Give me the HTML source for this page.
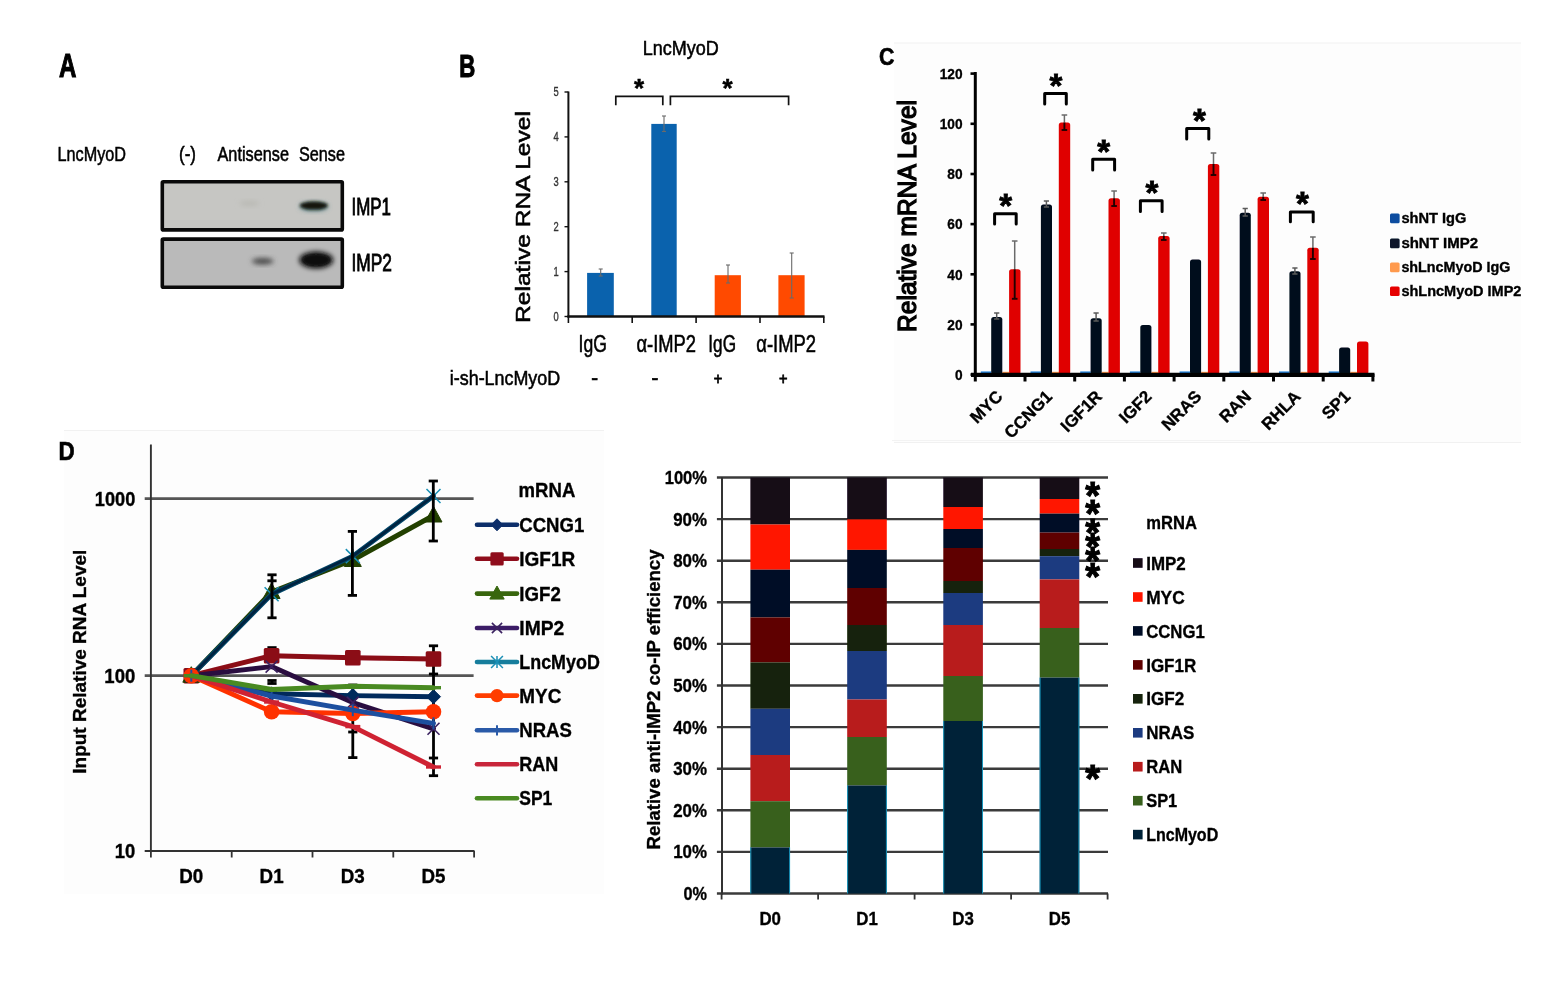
<!DOCTYPE html>
<html lang="en"><head><meta charset="utf-8"><title>LncMyoD figure</title>
<style>html,body{margin:0;padding:0;background:#fff;}body{width:1558px;height:985px;overflow:hidden;}svg{display:block;font-family:"Liberation Sans", Arial, sans-serif;}</style>
</head><body>
<svg width="1558" height="985" viewBox="0 0 1558 985">
<defs>
<filter id="b0" x="-5%" y="-5%" width="110%" height="110%"><feGaussianBlur stdDeviation="0.45"/></filter>
<filter id="b1" x="-20%" y="-20%" width="140%" height="140%"><feGaussianBlur stdDeviation="0.6"/></filter>
<filter id="b2" x="-50%" y="-50%" width="200%" height="200%"><feGaussianBlur stdDeviation="1.6"/></filter>
<filter id="b3" x="-50%" y="-50%" width="200%" height="200%"><feGaussianBlur stdDeviation="2.4"/></filter>
</defs>
<rect x="0.0" y="0.0" width="1558.0" height="985.0" fill="#fff" />
<rect x="894.0" y="43.0" width="627.0" height="400.0" fill="#fdfdfd" />
<line x1="894.0" y1="43.0" x2="1521.0" y2="43.0" stroke="#f1f1f1" stroke-width="1" />
<line x1="894.0" y1="442.5" x2="1521.0" y2="442.5" stroke="#f1f1f1" stroke-width="1" />
<rect x="64.0" y="430.0" width="540.0" height="464.0" fill="#fdfdfd" />
<line x1="64.0" y1="430.5" x2="604.0" y2="430.5" stroke="#f1f1f1" stroke-width="1" />
<line x1="892.0" y1="440.5" x2="1250.0" y2="440.5" stroke="#f3f3f3" stroke-width="1" />
<g id="panelA">
<text x="59.0" y="77.0" font-size="32.5" font-weight="bold" text-anchor="start" fill="#000" textLength="17.4" lengthAdjust="spacingAndGlyphs" stroke="#000" stroke-width="1.1">A</text>
<text x="57.5" y="161.0" font-size="21" font-weight="normal" text-anchor="start" fill="#000" textLength="68.5" lengthAdjust="spacingAndGlyphs" stroke="#000" stroke-width="0.55">LncMyoD</text>
<text x="179.0" y="161.0" font-size="21" font-weight="normal" text-anchor="start" fill="#000" textLength="17.0" lengthAdjust="spacingAndGlyphs" stroke="#000" stroke-width="0.55">(-)</text>
<text x="217.5" y="161.0" font-size="21" font-weight="normal" text-anchor="start" fill="#000" textLength="71.5" lengthAdjust="spacingAndGlyphs" stroke="#000" stroke-width="0.55">Antisense</text>
<text x="299.0" y="161.0" font-size="21" font-weight="normal" text-anchor="start" fill="#000" textLength="46.0" lengthAdjust="spacingAndGlyphs" stroke="#000" stroke-width="0.55">Sense</text>
<rect x="162.3" y="181.7" width="180.0" height="48.2" fill="#c6c6c3" stroke="#0a0a0a" stroke-width="3.6" rx="1"/>
<ellipse cx="249.3" cy="203.4" rx="10" ry="2.6" fill="#b9b9b4" filter="url(#b3)"/>
<ellipse cx="313.8" cy="206.6" rx="14" ry="4" fill="#4a7a80" filter="url(#b3)"/><ellipse cx="313.8" cy="205.6" rx="14" ry="4" fill="#14160f" filter="url(#b2)"/>
<rect x="162.3" y="239.1" width="180.0" height="48.2" fill="#bababa" stroke="#0a0a0a" stroke-width="3.6" rx="1"/>
<ellipse cx="262.7" cy="261.3" rx="11" ry="3.2" fill="#4a4a4a" filter="url(#b3)"/>
<ellipse cx="316.2" cy="260" rx="17" ry="8.6" fill="#0a0a0a" filter="url(#b3)"/><ellipse cx="316.2" cy="260" rx="13" ry="5.5" fill="#111" filter="url(#b2)"/>
<text x="351.5" y="215.0" font-size="24" font-weight="normal" text-anchor="start" fill="#000" textLength="39.5" lengthAdjust="spacingAndGlyphs" stroke="#000" stroke-width="0.85">IMP1</text>
<text x="351.5" y="271.0" font-size="24" font-weight="normal" text-anchor="start" fill="#000" textLength="40.5" lengthAdjust="spacingAndGlyphs" stroke="#000" stroke-width="0.85">IMP2</text>
</g>
<g id="panelB">
<text x="459.3" y="77.3" font-size="31" font-weight="bold" text-anchor="start" fill="#000" textLength="16.0" lengthAdjust="spacingAndGlyphs" stroke="#000" stroke-width="1.1">B</text>
<text x="642.8" y="55.0" font-size="20.5" font-weight="normal" text-anchor="start" fill="#000" textLength="76.0" lengthAdjust="spacingAndGlyphs" stroke="#000" stroke-width="0.55">LncMyoD</text>
<text x="529.5" y="217.0" font-size="21" font-weight="normal" text-anchor="middle" fill="#000" textLength="212.0" lengthAdjust="spacingAndGlyphs" transform="rotate(-90 529.5 217.0)" stroke="#000" stroke-width="0.55">Relative RNA Level</text>
<rect x="587.1" y="272.9" width="26.7" height="43.6" fill="#0a62ad" />
<rect x="651.3" y="123.9" width="25.4" height="192.6" fill="#0a62ad" />
<rect x="714.7" y="275.2" width="26.2" height="41.3" fill="#ff4a00" />
<rect x="778.4" y="275.2" width="26.2" height="41.3" fill="#ff4a00" />
<line x1="600.7" y1="269.0" x2="600.7" y2="276.0" stroke="#6a6a6a" stroke-width="1.1" />
<line x1="598.7" y1="269.0" x2="602.7" y2="269.0" stroke="#6a6a6a" stroke-width="1.1" />
<line x1="598.7" y1="276.0" x2="602.7" y2="276.0" stroke="#6a6a6a" stroke-width="1.1" />
<line x1="664.0" y1="116.0" x2="664.0" y2="131.5" stroke="#6a6a6a" stroke-width="1.1" />
<line x1="662.0" y1="116.0" x2="666.0" y2="116.0" stroke="#6a6a6a" stroke-width="1.1" />
<line x1="662.0" y1="131.5" x2="666.0" y2="131.5" stroke="#6a6a6a" stroke-width="1.1" />
<line x1="728.0" y1="265.0" x2="728.0" y2="283.0" stroke="#6a6a6a" stroke-width="1.1" />
<line x1="726.0" y1="265.0" x2="730.0" y2="265.0" stroke="#6a6a6a" stroke-width="1.1" />
<line x1="726.0" y1="283.0" x2="730.0" y2="283.0" stroke="#6a6a6a" stroke-width="1.1" />
<line x1="791.7" y1="253.0" x2="791.7" y2="298.0" stroke="#6a6a6a" stroke-width="1.1" />
<line x1="789.7" y1="253.0" x2="793.7" y2="253.0" stroke="#6a6a6a" stroke-width="1.1" />
<line x1="789.7" y1="298.0" x2="793.7" y2="298.0" stroke="#6a6a6a" stroke-width="1.1" />
<line x1="568.4" y1="91.5" x2="568.4" y2="317.5" stroke="#111" stroke-width="2" />
<line x1="567.4" y1="316.5" x2="824.5" y2="316.5" stroke="#111" stroke-width="2.6" />
<line x1="568.4" y1="316.5" x2="568.4" y2="323.0" stroke="#111" stroke-width="1.6" />
<line x1="632.2" y1="316.5" x2="632.2" y2="323.0" stroke="#111" stroke-width="1.6" />
<line x1="696.1" y1="316.5" x2="696.1" y2="323.0" stroke="#111" stroke-width="1.6" />
<line x1="760.0" y1="316.5" x2="760.0" y2="323.0" stroke="#111" stroke-width="1.6" />
<line x1="823.8" y1="316.5" x2="823.8" y2="323.0" stroke="#111" stroke-width="1.6" />
<line x1="564.5" y1="316.5" x2="568.4" y2="316.5" stroke="#111" stroke-width="1.4" />
<text x="558.8" y="320.8" font-size="12.5" font-weight="normal" text-anchor="end" fill="#333" textLength="5.2" lengthAdjust="spacingAndGlyphs" stroke="#333" stroke-width="0.35">0</text>
<line x1="564.5" y1="271.6" x2="568.4" y2="271.6" stroke="#111" stroke-width="1.4" />
<text x="558.8" y="275.9" font-size="12.5" font-weight="normal" text-anchor="end" fill="#333" textLength="5.2" lengthAdjust="spacingAndGlyphs" stroke="#333" stroke-width="0.35">1</text>
<line x1="564.5" y1="226.7" x2="568.4" y2="226.7" stroke="#111" stroke-width="1.4" />
<text x="558.8" y="231.0" font-size="12.5" font-weight="normal" text-anchor="end" fill="#333" textLength="5.2" lengthAdjust="spacingAndGlyphs" stroke="#333" stroke-width="0.35">2</text>
<line x1="564.5" y1="181.8" x2="568.4" y2="181.8" stroke="#111" stroke-width="1.4" />
<text x="558.8" y="186.1" font-size="12.5" font-weight="normal" text-anchor="end" fill="#333" textLength="5.2" lengthAdjust="spacingAndGlyphs" stroke="#333" stroke-width="0.35">3</text>
<line x1="564.5" y1="136.9" x2="568.4" y2="136.9" stroke="#111" stroke-width="1.4" />
<text x="558.8" y="141.2" font-size="12.5" font-weight="normal" text-anchor="end" fill="#333" textLength="5.2" lengthAdjust="spacingAndGlyphs" stroke="#333" stroke-width="0.35">4</text>
<line x1="564.5" y1="92.0" x2="568.4" y2="92.0" stroke="#111" stroke-width="1.4" />
<text x="558.8" y="96.3" font-size="12.5" font-weight="normal" text-anchor="end" fill="#333" textLength="5.2" lengthAdjust="spacingAndGlyphs" stroke="#333" stroke-width="0.35">5</text>
<path d="M615.8 105.2 V96.3 H662.8 V105.2" stroke="#111" stroke-width="1.7" fill="none" />
<path d="M670.4 105.2 V96.3 H788.6 V105.2" stroke="#111" stroke-width="1.7" fill="none" />
<text x="639.0" y="96.5" font-size="26" font-weight="bold" text-anchor="middle" fill="#000" stroke="#000" stroke-width="0.5">*</text>
<text x="727.5" y="96.5" font-size="26" font-weight="bold" text-anchor="middle" fill="#000" stroke="#000" stroke-width="0.5">*</text>
<text x="578.6" y="352.0" font-size="23.5" font-weight="normal" text-anchor="start" fill="#000" textLength="28.3" lengthAdjust="spacingAndGlyphs" stroke="#000" stroke-width="0.55">IgG</text>
<text x="636.4" y="352.0" font-size="23.5" font-weight="normal" text-anchor="start" fill="#000" textLength="59.6" lengthAdjust="spacingAndGlyphs" stroke="#000" stroke-width="0.55">α-IMP2</text>
<text x="708.3" y="352.0" font-size="23.5" font-weight="normal" text-anchor="start" fill="#000" textLength="27.7" lengthAdjust="spacingAndGlyphs" stroke="#000" stroke-width="0.55">IgG</text>
<text x="756.3" y="352.0" font-size="23.5" font-weight="normal" text-anchor="start" fill="#000" textLength="59.8" lengthAdjust="spacingAndGlyphs" stroke="#000" stroke-width="0.55">α-IMP2</text>
<text x="449.8" y="385.0" font-size="20.5" font-weight="normal" text-anchor="start" fill="#000" textLength="110.4" lengthAdjust="spacingAndGlyphs" stroke="#000" stroke-width="0.55">i-sh-LncMyoD</text>
<text x="594.6" y="385.0" font-size="20.5" font-weight="normal" text-anchor="middle" fill="#000" stroke="#000" stroke-width="0.7">-</text>
<text x="655.0" y="385.0" font-size="20.5" font-weight="normal" text-anchor="middle" fill="#000" stroke="#000" stroke-width="0.7">-</text>
<text x="718.0" y="384.0" font-size="17" font-weight="normal" text-anchor="middle" fill="#000" textLength="8.5" lengthAdjust="spacingAndGlyphs" stroke="#000" stroke-width="0.8">+</text>
<text x="783.3" y="384.0" font-size="17" font-weight="normal" text-anchor="middle" fill="#000" textLength="8.5" lengthAdjust="spacingAndGlyphs" stroke="#000" stroke-width="0.8">+</text>
</g>
<g id="panelC" filter="url(#b0)">
<text x="879.0" y="65.0" font-size="23.5" font-weight="bold" text-anchor="start" fill="#000" textLength="15.4" lengthAdjust="spacingAndGlyphs" stroke="#000" stroke-width="0.6">C</text>
<text x="915.5" y="216.0" font-size="25" font-weight="normal" text-anchor="middle" fill="#000" textLength="232.0" lengthAdjust="spacingAndGlyphs" transform="rotate(-90 915.5 216.0)" stroke="#000" stroke-width="1.3">Relative mRNA Level</text>
<g filter="url(#b1)">
<rect x="980.8" y="371.4" width="10.5" height="2.0" fill="#2a86dc" />
<rect x="1002.3" y="371.8" width="7.0" height="1.4" fill="#ff9a4d" />
<rect x="991.2" y="316.9" width="11.1" height="57.7" rx="2.5" fill="#030d1c"/>
<rect x="1009.1" y="269.3" width="11.4" height="105.3" rx="2.5" fill="#e00000"/>
<line x1="996.7" y1="313.0" x2="996.7" y2="319.0" stroke="#5a5a5a" stroke-width="1.5" />
<line x1="994.1" y1="313.0" x2="999.3" y2="313.0" stroke="#5a5a5a" stroke-width="1.5" />
<line x1="994.1" y1="319.0" x2="999.3" y2="319.0" stroke="#5a5a5a" stroke-width="1.5" />
<line x1="1014.7" y1="241.0" x2="1014.7" y2="269.3" stroke="#6a6a6a" stroke-width="1.5" />
<line x1="1011.9" y1="241.0" x2="1017.5" y2="241.0" stroke="#6a6a6a" stroke-width="1.5" />
<line x1="1014.7" y1="269.3" x2="1014.7" y2="298.8" stroke="#200404" stroke-width="1.9" />
<line x1="1011.9" y1="298.8" x2="1017.5" y2="298.8" stroke="#200404" stroke-width="1.9" />
<rect x="1030.5" y="371.4" width="10.5" height="2.0" fill="#2a86dc" />
<rect x="1052.0" y="371.8" width="7.0" height="1.4" fill="#ff9a4d" />
<rect x="1040.9" y="204.6" width="11.1" height="170.0" rx="2.5" fill="#030d1c"/>
<rect x="1058.8" y="122.5" width="11.4" height="252.1" rx="2.5" fill="#e00000"/>
<line x1="1046.4" y1="201.0" x2="1046.4" y2="207.0" stroke="#5a5a5a" stroke-width="1.5" />
<line x1="1043.8" y1="201.0" x2="1049.0" y2="201.0" stroke="#5a5a5a" stroke-width="1.5" />
<line x1="1043.8" y1="207.0" x2="1049.0" y2="207.0" stroke="#5a5a5a" stroke-width="1.5" />
<line x1="1064.4" y1="115.0" x2="1064.4" y2="122.5" stroke="#6a6a6a" stroke-width="1.5" />
<line x1="1061.6" y1="115.0" x2="1067.2" y2="115.0" stroke="#6a6a6a" stroke-width="1.5" />
<line x1="1064.4" y1="122.5" x2="1064.4" y2="130.0" stroke="#200404" stroke-width="1.9" />
<line x1="1061.6" y1="130.0" x2="1067.2" y2="130.0" stroke="#200404" stroke-width="1.9" />
<rect x="1080.2" y="371.4" width="10.5" height="2.0" fill="#2a86dc" />
<rect x="1101.7" y="371.8" width="7.0" height="1.4" fill="#ff9a4d" />
<rect x="1090.6" y="318.2" width="11.1" height="56.4" rx="2.5" fill="#030d1c"/>
<rect x="1108.5" y="198.3" width="11.4" height="176.3" rx="2.5" fill="#e00000"/>
<line x1="1096.1" y1="313.0" x2="1096.1" y2="321.0" stroke="#5a5a5a" stroke-width="1.5" />
<line x1="1093.5" y1="313.0" x2="1098.7" y2="313.0" stroke="#5a5a5a" stroke-width="1.5" />
<line x1="1093.5" y1="321.0" x2="1098.7" y2="321.0" stroke="#5a5a5a" stroke-width="1.5" />
<line x1="1114.1" y1="191.0" x2="1114.1" y2="198.3" stroke="#6a6a6a" stroke-width="1.5" />
<line x1="1111.3" y1="191.0" x2="1116.9" y2="191.0" stroke="#6a6a6a" stroke-width="1.5" />
<line x1="1114.1" y1="198.3" x2="1114.1" y2="206.0" stroke="#200404" stroke-width="1.9" />
<line x1="1111.3" y1="206.0" x2="1116.9" y2="206.0" stroke="#200404" stroke-width="1.9" />
<rect x="1129.9" y="371.4" width="10.5" height="2.0" fill="#2a86dc" />
<rect x="1151.4" y="371.8" width="7.0" height="1.4" fill="#ff9a4d" />
<rect x="1140.3" y="324.9" width="11.1" height="49.7" rx="2.5" fill="#030d1c"/>
<rect x="1158.2" y="235.9" width="11.4" height="138.7" rx="2.5" fill="#e00000"/>
<line x1="1163.8" y1="233.0" x2="1163.8" y2="235.9" stroke="#6a6a6a" stroke-width="1.5" />
<line x1="1161.0" y1="233.0" x2="1166.6" y2="233.0" stroke="#6a6a6a" stroke-width="1.5" />
<line x1="1163.8" y1="235.9" x2="1163.8" y2="240.0" stroke="#200404" stroke-width="1.9" />
<line x1="1161.0" y1="240.0" x2="1166.6" y2="240.0" stroke="#200404" stroke-width="1.9" />
<rect x="1179.6" y="371.4" width="10.5" height="2.0" fill="#2a86dc" />
<rect x="1201.1" y="371.8" width="7.0" height="1.4" fill="#ff9a4d" />
<rect x="1190.0" y="259.5" width="11.1" height="115.1" rx="2.5" fill="#030d1c"/>
<rect x="1207.9" y="163.9" width="11.4" height="210.7" rx="2.5" fill="#e00000"/>
<line x1="1213.5" y1="153.0" x2="1213.5" y2="163.9" stroke="#6a6a6a" stroke-width="1.5" />
<line x1="1210.7" y1="153.0" x2="1216.3" y2="153.0" stroke="#6a6a6a" stroke-width="1.5" />
<line x1="1213.5" y1="163.9" x2="1213.5" y2="175.0" stroke="#200404" stroke-width="1.9" />
<line x1="1210.7" y1="175.0" x2="1216.3" y2="175.0" stroke="#200404" stroke-width="1.9" />
<rect x="1229.3" y="371.4" width="10.5" height="2.0" fill="#2a86dc" />
<rect x="1250.8" y="371.8" width="7.0" height="1.4" fill="#ff9a4d" />
<rect x="1239.7" y="212.8" width="11.1" height="161.8" rx="2.5" fill="#030d1c"/>
<rect x="1257.6" y="196.8" width="11.4" height="177.8" rx="2.5" fill="#e00000"/>
<line x1="1245.2" y1="208.5" x2="1245.2" y2="216.0" stroke="#5a5a5a" stroke-width="1.5" />
<line x1="1242.6" y1="208.5" x2="1247.8" y2="208.5" stroke="#5a5a5a" stroke-width="1.5" />
<line x1="1242.6" y1="216.0" x2="1247.8" y2="216.0" stroke="#5a5a5a" stroke-width="1.5" />
<line x1="1263.2" y1="193.0" x2="1263.2" y2="196.8" stroke="#6a6a6a" stroke-width="1.5" />
<line x1="1260.4" y1="193.0" x2="1266.0" y2="193.0" stroke="#6a6a6a" stroke-width="1.5" />
<line x1="1263.2" y1="196.8" x2="1263.2" y2="200.0" stroke="#200404" stroke-width="1.9" />
<line x1="1260.4" y1="200.0" x2="1266.0" y2="200.0" stroke="#200404" stroke-width="1.9" />
<rect x="1279.0" y="371.4" width="10.5" height="2.0" fill="#2a86dc" />
<rect x="1300.5" y="371.8" width="7.0" height="1.4" fill="#ff9a4d" />
<rect x="1289.4" y="271.3" width="11.1" height="103.3" rx="2.5" fill="#030d1c"/>
<rect x="1307.3" y="247.7" width="11.4" height="126.9" rx="2.5" fill="#e00000"/>
<line x1="1294.9" y1="268.0" x2="1294.9" y2="274.0" stroke="#5a5a5a" stroke-width="1.5" />
<line x1="1292.3" y1="268.0" x2="1297.5" y2="268.0" stroke="#5a5a5a" stroke-width="1.5" />
<line x1="1292.3" y1="274.0" x2="1297.5" y2="274.0" stroke="#5a5a5a" stroke-width="1.5" />
<line x1="1312.9" y1="237.0" x2="1312.9" y2="247.7" stroke="#6a6a6a" stroke-width="1.5" />
<line x1="1310.1" y1="237.0" x2="1315.7" y2="237.0" stroke="#6a6a6a" stroke-width="1.5" />
<line x1="1312.9" y1="247.7" x2="1312.9" y2="259.0" stroke="#200404" stroke-width="1.9" />
<line x1="1310.1" y1="259.0" x2="1315.7" y2="259.0" stroke="#200404" stroke-width="1.9" />
<rect x="1328.7" y="371.4" width="10.5" height="2.0" fill="#2a86dc" />
<rect x="1350.2" y="371.8" width="7.0" height="1.4" fill="#ff9a4d" />
<rect x="1339.1" y="347.5" width="11.1" height="27.1" rx="2.5" fill="#030d1c"/>
<rect x="1357.0" y="341.5" width="11.4" height="33.1" rx="2.5" fill="#e00000"/>
</g>
<line x1="975.3" y1="72.0" x2="975.3" y2="376.5" stroke="#000" stroke-width="3" />
<line x1="971.0" y1="374.8" x2="1374.5" y2="374.8" stroke="#000" stroke-width="4.2" />
<line x1="975.3" y1="374.0" x2="975.3" y2="381.5" stroke="#000" stroke-width="3" />
<line x1="1025.0" y1="374.0" x2="1025.0" y2="381.5" stroke="#000" stroke-width="3" />
<line x1="1074.7" y1="374.0" x2="1074.7" y2="381.5" stroke="#000" stroke-width="3" />
<line x1="1124.4" y1="374.0" x2="1124.4" y2="381.5" stroke="#000" stroke-width="3" />
<line x1="1174.1" y1="374.0" x2="1174.1" y2="381.5" stroke="#000" stroke-width="3" />
<line x1="1223.8" y1="374.0" x2="1223.8" y2="381.5" stroke="#000" stroke-width="3" />
<line x1="1273.5" y1="374.0" x2="1273.5" y2="381.5" stroke="#000" stroke-width="3" />
<line x1="1323.2" y1="374.0" x2="1323.2" y2="381.5" stroke="#000" stroke-width="3" />
<line x1="1372.9" y1="374.0" x2="1372.9" y2="381.5" stroke="#000" stroke-width="3" />
<line x1="970.5" y1="374.6" x2="975.3" y2="374.6" stroke="#000" stroke-width="2.6" />
<text x="962.5" y="379.9" font-size="15" font-weight="bold" text-anchor="end" fill="#000" textLength="7.6" lengthAdjust="spacingAndGlyphs" stroke="#000" stroke-width="0.35">0</text>
<line x1="970.5" y1="324.4" x2="975.3" y2="324.4" stroke="#000" stroke-width="2.6" />
<text x="962.5" y="329.7" font-size="15" font-weight="bold" text-anchor="end" fill="#000" textLength="15.2" lengthAdjust="spacingAndGlyphs" stroke="#000" stroke-width="0.35">20</text>
<line x1="970.5" y1="274.3" x2="975.3" y2="274.3" stroke="#000" stroke-width="2.6" />
<text x="962.5" y="279.6" font-size="15" font-weight="bold" text-anchor="end" fill="#000" textLength="15.2" lengthAdjust="spacingAndGlyphs" stroke="#000" stroke-width="0.35">40</text>
<line x1="970.5" y1="224.1" x2="975.3" y2="224.1" stroke="#000" stroke-width="2.6" />
<text x="962.5" y="229.4" font-size="15" font-weight="bold" text-anchor="end" fill="#000" textLength="15.2" lengthAdjust="spacingAndGlyphs" stroke="#000" stroke-width="0.35">60</text>
<line x1="970.5" y1="174.0" x2="975.3" y2="174.0" stroke="#000" stroke-width="2.6" />
<text x="962.5" y="179.3" font-size="15" font-weight="bold" text-anchor="end" fill="#000" textLength="15.2" lengthAdjust="spacingAndGlyphs" stroke="#000" stroke-width="0.35">80</text>
<line x1="970.5" y1="123.8" x2="975.3" y2="123.8" stroke="#000" stroke-width="2.6" />
<text x="962.5" y="129.1" font-size="15" font-weight="bold" text-anchor="end" fill="#000" textLength="22.8" lengthAdjust="spacingAndGlyphs" stroke="#000" stroke-width="0.35">100</text>
<line x1="970.5" y1="73.6" x2="975.3" y2="73.6" stroke="#000" stroke-width="2.6" />
<text x="962.5" y="78.9" font-size="15" font-weight="bold" text-anchor="end" fill="#000" textLength="22.8" lengthAdjust="spacingAndGlyphs" stroke="#000" stroke-width="0.35">120</text>
<path d="M994.6 224.0 V213.7 H1016.2 V224.0" stroke="#000" stroke-width="3" fill="none" stroke-linejoin="round" stroke-linecap="round"/>
<text x="1005.6" y="217.0" font-size="33" font-weight="bold" text-anchor="middle" fill="#000" stroke="#000" stroke-width="0.8">*</text>
<path d="M1044.7 104.0 V93.5 H1066.3 V104.0" stroke="#000" stroke-width="3" fill="none" stroke-linejoin="round" stroke-linecap="round"/>
<text x="1056.0" y="97.1" font-size="33" font-weight="bold" text-anchor="middle" fill="#000" stroke="#000" stroke-width="0.8">*</text>
<path d="M1092.7 170.0 V159.3 H1114.6 V170.0" stroke="#000" stroke-width="3" fill="none" stroke-linejoin="round" stroke-linecap="round"/>
<text x="1103.6" y="163.1" font-size="33" font-weight="bold" text-anchor="middle" fill="#000" stroke="#000" stroke-width="0.8">*</text>
<path d="M1140.4 211.5 V200.8 H1162.1 V211.5" stroke="#000" stroke-width="3" fill="none" stroke-linejoin="round" stroke-linecap="round"/>
<text x="1152.0" y="203.5" font-size="33" font-weight="bold" text-anchor="middle" fill="#000" stroke="#000" stroke-width="0.8">*</text>
<path d="M1186.7 139.0 V128.4 H1208.8 V139.0" stroke="#000" stroke-width="3" fill="none" stroke-linejoin="round" stroke-linecap="round"/>
<text x="1199.4" y="131.8" font-size="33" font-weight="bold" text-anchor="middle" fill="#000" stroke="#000" stroke-width="0.8">*</text>
<path d="M1290.4 221.7 V212.1 H1313.2 V221.7" stroke="#000" stroke-width="3" fill="none" stroke-linejoin="round" stroke-linecap="round"/>
<text x="1302.5" y="215.0" font-size="33" font-weight="bold" text-anchor="middle" fill="#000" stroke="#000" stroke-width="0.8">*</text>
<text x="1003.6" y="397.5" font-size="17" font-weight="bold" text-anchor="end" fill="#000" transform="rotate(-45 1003.6 397.5)" stroke="#000" stroke-width="0.35">MYC</text>
<text x="1053.3" y="397.5" font-size="17" font-weight="bold" text-anchor="end" fill="#000" transform="rotate(-45 1053.3 397.5)" stroke="#000" stroke-width="0.35">CCNG1</text>
<text x="1103.0" y="397.5" font-size="17" font-weight="bold" text-anchor="end" fill="#000" transform="rotate(-45 1103.0 397.5)" stroke="#000" stroke-width="0.35">IGF1R</text>
<text x="1152.8" y="397.5" font-size="17" font-weight="bold" text-anchor="end" fill="#000" transform="rotate(-45 1152.8 397.5)" stroke="#000" stroke-width="0.35">IGF2</text>
<text x="1202.5" y="397.5" font-size="17" font-weight="bold" text-anchor="end" fill="#000" transform="rotate(-45 1202.5 397.5)" stroke="#000" stroke-width="0.35">NRAS</text>
<text x="1252.2" y="397.5" font-size="17" font-weight="bold" text-anchor="end" fill="#000" transform="rotate(-45 1252.2 397.5)" stroke="#000" stroke-width="0.35">RAN</text>
<text x="1301.8" y="397.5" font-size="17" font-weight="bold" text-anchor="end" fill="#000" transform="rotate(-45 1301.8 397.5)" stroke="#000" stroke-width="0.35">RHLA</text>
<text x="1351.5" y="397.5" font-size="17" font-weight="bold" text-anchor="end" fill="#000" transform="rotate(-45 1351.5 397.5)" stroke="#000" stroke-width="0.35">SP1</text>
<rect x="1390" y="213.6" width="9.6" height="9.6" rx="1.5" fill="#0b4da0"/>
<text x="1401.4" y="223.4" font-size="14" font-weight="bold" text-anchor="start" fill="#000" textLength="65.0" lengthAdjust="spacingAndGlyphs" stroke="#000" stroke-width="0.35">shNT IgG</text>
<rect x="1390" y="238.6" width="9.6" height="9.6" rx="1.5" fill="#07182b"/>
<text x="1401.4" y="248.4" font-size="14" font-weight="bold" text-anchor="start" fill="#000" textLength="76.6" lengthAdjust="spacingAndGlyphs" stroke="#000" stroke-width="0.35">shNT IMP2</text>
<rect x="1390" y="262.6" width="9.6" height="9.6" rx="1.5" fill="#ff9a4d"/>
<text x="1401.4" y="272.4" font-size="14" font-weight="bold" text-anchor="start" fill="#000" textLength="109.0" lengthAdjust="spacingAndGlyphs" stroke="#000" stroke-width="0.35">shLncMyoD IgG</text>
<rect x="1390" y="286.4" width="9.6" height="9.6" rx="1.5" fill="#e60000"/>
<text x="1401.4" y="296.2" font-size="14" font-weight="bold" text-anchor="start" fill="#000" textLength="120.0" lengthAdjust="spacingAndGlyphs" stroke="#000" stroke-width="0.35">shLncMyoD IMP2</text>
</g>
<g id="panelD1" filter="url(#b0)">
<text x="58.5" y="460.0" font-size="25" font-weight="bold" text-anchor="start" fill="#000" textLength="16.2" lengthAdjust="spacingAndGlyphs" stroke="#000" stroke-width="0.6">D</text>
<line x1="144.7" y1="498.6" x2="473.6" y2="498.6" stroke="#555" stroke-width="2.8" />
<line x1="144.7" y1="675.7" x2="473.6" y2="675.7" stroke="#555" stroke-width="2.8" />
<line x1="150.9" y1="444.4" x2="150.9" y2="852.0" stroke="#333" stroke-width="1.9" />
<line x1="144.7" y1="851.0" x2="474.5" y2="851.0" stroke="#333" stroke-width="2.2" />
<line x1="150.9" y1="851.0" x2="150.9" y2="857.5" stroke="#333" stroke-width="1.8" />
<line x1="231.7" y1="851.0" x2="231.7" y2="857.5" stroke="#333" stroke-width="1.8" />
<line x1="312.5" y1="851.0" x2="312.5" y2="857.5" stroke="#333" stroke-width="1.8" />
<line x1="393.3" y1="851.0" x2="393.3" y2="857.5" stroke="#333" stroke-width="1.8" />
<line x1="474.1" y1="851.0" x2="474.1" y2="857.5" stroke="#333" stroke-width="1.8" />
<text x="135.3" y="506.0" font-size="19.5" font-weight="bold" text-anchor="end" fill="#000" textLength="40.5" lengthAdjust="spacingAndGlyphs" stroke="#000" stroke-width="0.35">1000</text>
<text x="135.3" y="682.5" font-size="19.5" font-weight="bold" text-anchor="end" fill="#000" textLength="31.0" lengthAdjust="spacingAndGlyphs" stroke="#000" stroke-width="0.35">100</text>
<text x="135.3" y="858.0" font-size="19.5" font-weight="bold" text-anchor="end" fill="#000" textLength="20.5" lengthAdjust="spacingAndGlyphs" stroke="#000" stroke-width="0.35">10</text>
<text x="86.0" y="661.7" font-size="19" font-weight="bold" text-anchor="middle" fill="#000" textLength="224.0" lengthAdjust="spacingAndGlyphs" transform="rotate(-90 86.0 661.7)" stroke="#000" stroke-width="0.35">Input Relative RNA Level</text>
<text x="191.3" y="883.2" font-size="19.5" font-weight="bold" text-anchor="middle" fill="#000" textLength="24.0" lengthAdjust="spacingAndGlyphs" stroke="#000" stroke-width="0.35">D0</text>
<text x="271.6" y="883.2" font-size="19.5" font-weight="bold" text-anchor="middle" fill="#000" textLength="24.0" lengthAdjust="spacingAndGlyphs" stroke="#000" stroke-width="0.35">D1</text>
<text x="352.8" y="883.2" font-size="19.5" font-weight="bold" text-anchor="middle" fill="#000" textLength="24.0" lengthAdjust="spacingAndGlyphs" stroke="#000" stroke-width="0.35">D3</text>
<text x="433.5" y="883.2" font-size="19.5" font-weight="bold" text-anchor="middle" fill="#000" textLength="24.0" lengthAdjust="spacingAndGlyphs" stroke="#000" stroke-width="0.35">D5</text>
<g filter="url(#b1)">
<line x1="272.0" y1="647.6" x2="272.0" y2="650.0" stroke="#000" stroke-width="2.8" />
<line x1="267.4" y1="647.6" x2="276.6" y2="647.6" stroke="#000" stroke-width="2.8" />
<line x1="267.4" y1="650.0" x2="276.6" y2="650.0" stroke="#000" stroke-width="2.8" />
<line x1="272.0" y1="680.5" x2="272.0" y2="683.5" stroke="#000" stroke-width="2.8" />
<line x1="267.4" y1="680.5" x2="276.6" y2="680.5" stroke="#000" stroke-width="2.8" />
<line x1="267.4" y1="683.5" x2="276.6" y2="683.5" stroke="#000" stroke-width="2.8" />
<line x1="352.8" y1="685.0" x2="352.8" y2="757.6" stroke="#000" stroke-width="2.8" />
<line x1="348.2" y1="685.0" x2="357.4" y2="685.0" stroke="#000" stroke-width="2.8" />
<line x1="348.2" y1="732.0" x2="357.4" y2="732.0" stroke="#000" stroke-width="2.8" />
<line x1="348.2" y1="757.6" x2="357.4" y2="757.6" stroke="#000" stroke-width="2.8" />
<line x1="433.5" y1="645.8" x2="433.5" y2="775.7" stroke="#000" stroke-width="2.8" />
<line x1="428.9" y1="645.8" x2="438.1" y2="645.8" stroke="#000" stroke-width="2.8" />
<line x1="428.9" y1="674.0" x2="438.1" y2="674.0" stroke="#000" stroke-width="2.8" />
<line x1="428.9" y1="758.0" x2="438.1" y2="758.0" stroke="#000" stroke-width="2.8" />
<line x1="428.9" y1="775.7" x2="438.1" y2="775.7" stroke="#000" stroke-width="2.8" />
<polyline points="191.3,675.7 271.6,693.8 352.8,695.6 433.5,696.7" fill="none" stroke="#062a5c" stroke-width="4.9" stroke-linejoin="round" stroke-linecap="round"/>
<path d="M184.3 675.7 L191.3 668.7 L198.3 675.7 L191.3 682.7 Z" stroke="#062a5c" stroke-width="1" fill="#062a5c" />
<path d="M264.6 693.8 L271.6 686.8 L278.6 693.8 L271.6 700.8 Z" stroke="#062a5c" stroke-width="1" fill="#062a5c" />
<path d="M345.8 695.6 L352.8 688.6 L359.8 695.6 L352.8 702.6 Z" stroke="#062a5c" stroke-width="1" fill="#062a5c" />
<path d="M426.5 696.7 L433.5 689.7 L440.5 696.7 L433.5 703.7 Z" stroke="#062a5c" stroke-width="1" fill="#062a5c" />
<polyline points="191.3,675.7 271.6,655.7 352.8,657.8 433.5,659.0" fill="none" stroke="#8b0a14" stroke-width="4.9" stroke-linejoin="round" stroke-linecap="round"/>
<rect x="183.5" y="667.9" width="15.6" height="15.6" fill="#8b0a14" rx="1.5"/>
<rect x="263.8" y="647.9" width="15.6" height="15.6" fill="#8b0a14" rx="1.5"/>
<rect x="345.0" y="650.0" width="15.6" height="15.6" fill="#8b0a14" rx="1.5"/>
<rect x="425.7" y="651.2" width="15.6" height="15.6" fill="#8b0a14" rx="1.5"/>
<polyline points="191.3,675.7 271.6,592.0 352.8,560.0 433.5,515.5" fill="none" stroke="#243f02" stroke-width="4.9" stroke-linejoin="round" stroke-linecap="round"/>
<path d="M182.8 682.2 L191.3 666.7 L199.8 682.2 Z" stroke="#243f02" stroke-width="1" fill="#243f02" />
<path d="M263.1 598.5 L271.6 583.0 L280.1 598.5 Z" stroke="#243f02" stroke-width="1" fill="#243f02" />
<path d="M344.3 566.5 L352.8 551.0 L361.3 566.5 Z" stroke="#243f02" stroke-width="1" fill="#243f02" />
<path d="M425.0 522.0 L433.5 506.5 L442.0 522.0 Z" stroke="#243f02" stroke-width="1" fill="#243f02" />
<polyline points="191.3,675.7 271.6,666.6 352.8,702.6 433.5,728.8" fill="none" stroke="#2a1040" stroke-width="4.9" stroke-linejoin="round" stroke-linecap="round"/>
<path d="M185.3 669.7 L197.3 681.7 M185.3 681.7 L197.3 669.7" stroke="#3a2060" stroke-width="1.6" fill="none" />
<path d="M265.6 660.6 L277.6 672.6 M265.6 672.6 L277.6 660.6" stroke="#3a2060" stroke-width="1.6" fill="none" />
<path d="M346.8 696.6 L358.8 708.6 M346.8 708.6 L358.8 696.6" stroke="#3a2060" stroke-width="1.6" fill="none" />
<path d="M427.5 722.8 L439.5 734.8 M427.5 734.8 L439.5 722.8" stroke="#3a2060" stroke-width="1.6" fill="none" />
<path d="M264.6 587.3 L278.6 601.3 M264.6 601.3 L278.6 587.3 M271.6 587.3 V601.3" stroke="#1a8fb5" stroke-width="1.5" fill="none" />
<path d="M345.8 549.1 L359.8 563.1 M345.8 563.1 L359.8 549.1 M352.8 549.1 V563.1" stroke="#1a8fb5" stroke-width="1.5" fill="none" />
<path d="M426.5 489.0 L440.5 503.0 M426.5 503.0 L440.5 489.0 M433.5 489.0 V503.0" stroke="#1a8fb5" stroke-width="1.5" fill="none" />
<polyline points="191.3,675.7 271.6,594.3 352.8,556.1 433.5,496.0" fill="none" stroke="#07476a" stroke-width="4.9" stroke-linejoin="round" stroke-linecap="round"/>
<polyline points="191.3,675.7 271.6,594.3 352.8,556.1 433.5,496.0" fill="none" stroke="#032440" stroke-width="2.8" stroke-linejoin="round" stroke-linecap="round"/>
<polyline points="191.3,675.7 271.6,711.7 352.8,713.5 433.5,711.7" fill="none" stroke="#ff3300" stroke-width="4.9" stroke-linejoin="round" stroke-linecap="round"/>
<circle cx="191.3" cy="675.7" r="7.8" fill="#ff3300"/>
<circle cx="271.6" cy="711.7" r="7.8" fill="#ff3300"/>
<circle cx="352.8" cy="713.5" r="7.8" fill="#ff3300"/>
<circle cx="433.5" cy="711.7" r="7.8" fill="#ff3300"/>
<polyline points="191.3,675.7 271.6,696.0 352.8,710.2 433.5,723.3" fill="none" stroke="#1f4f9f" stroke-width="4.9" stroke-linejoin="round" stroke-linecap="round"/>
<path d="M191.3 669.7 V681.7" stroke="#1f4f9f" stroke-width="2" fill="none" />
<path d="M271.6 690.0 V702.0" stroke="#1f4f9f" stroke-width="2" fill="none" />
<path d="M352.8 704.2 V716.2" stroke="#1f4f9f" stroke-width="2" fill="none" />
<path d="M433.5 717.3 V729.3" stroke="#1f4f9f" stroke-width="2" fill="none" />
<polyline points="191.3,675.7 271.6,702.0 352.8,726.6 433.5,767.0" fill="none" stroke="#cf2233" stroke-width="4.9" stroke-linejoin="round" stroke-linecap="round"/>
<path d="M183.8 675.7 H198.8" stroke="#cf2233" stroke-width="3.4" fill="none" />
<path d="M264.1 702.0 H279.1" stroke="#cf2233" stroke-width="3.4" fill="none" />
<path d="M345.3 726.6 H360.3" stroke="#cf2233" stroke-width="3.4" fill="none" />
<path d="M426.0 767.0 H441.0" stroke="#cf2233" stroke-width="3.4" fill="none" />
<polyline points="191.3,675.7 271.6,689.5 352.8,686.2 433.5,687.7" fill="none" stroke="#4a8a20" stroke-width="4.9" stroke-linejoin="round" stroke-linecap="round"/>
<path d="M183.8 675.7 H198.8" stroke="#4a8a20" stroke-width="3.4" fill="none" />
<path d="M264.1 689.5 H279.1" stroke="#4a8a20" stroke-width="3.4" fill="none" />
<path d="M345.3 686.2 H360.3" stroke="#4a8a20" stroke-width="3.4" fill="none" />
<path d="M426.0 687.7 H441.0" stroke="#4a8a20" stroke-width="3.4" fill="none" />
<line x1="272.0" y1="574.8" x2="272.0" y2="617.8" stroke="#000" stroke-width="2.8" />
<line x1="267.4" y1="574.8" x2="276.6" y2="574.8" stroke="#000" stroke-width="2.8" />
<line x1="267.4" y1="580.8" x2="276.6" y2="580.8" stroke="#000" stroke-width="2.8" />
<line x1="267.4" y1="617.8" x2="276.6" y2="617.8" stroke="#000" stroke-width="2.8" />
<line x1="352.4" y1="531.4" x2="352.4" y2="595.4" stroke="#000" stroke-width="2.8" />
<line x1="347.8" y1="531.4" x2="357.0" y2="531.4" stroke="#000" stroke-width="2.8" />
<line x1="347.8" y1="595.4" x2="357.0" y2="595.4" stroke="#000" stroke-width="2.8" />
<line x1="433.3" y1="481.0" x2="433.3" y2="541.0" stroke="#000" stroke-width="2.8" />
<line x1="428.7" y1="481.0" x2="437.9" y2="481.0" stroke="#000" stroke-width="2.8" />
<line x1="428.7" y1="541.0" x2="437.9" y2="541.0" stroke="#000" stroke-width="2.8" />
</g>
<text x="518.6" y="496.7" font-size="19.5" font-weight="bold" text-anchor="start" fill="#000" textLength="56.7" lengthAdjust="spacingAndGlyphs" stroke="#000" stroke-width="0.35">mRNA</text>
<line x1="477.0" y1="524.8" x2="517.0" y2="524.8" stroke="#0a2f6a" stroke-width="4.6" stroke-linecap="round"/>
<path d="M491.1 524.8 L497.0 518.8 L502.9 524.8 L497.0 530.8 Z" stroke="#0a2f6a" stroke-width="1" fill="#0a2f6a" />
<text x="519.3" y="531.8" font-size="19.5" font-weight="bold" text-anchor="start" fill="#000" textLength="65.0" lengthAdjust="spacingAndGlyphs" stroke="#000" stroke-width="0.35">CCNG1</text>
<line x1="477.0" y1="558.8" x2="517.0" y2="558.8" stroke="#8f0f1a" stroke-width="4.6" stroke-linecap="round"/>
<rect x="490.4" y="552.2" width="13.3" height="13.3" fill="#8f0f1a" rx="1.5"/>
<text x="519.3" y="565.8" font-size="19.5" font-weight="bold" text-anchor="start" fill="#000" textLength="56.0" lengthAdjust="spacingAndGlyphs" stroke="#000" stroke-width="0.35">IGF1R</text>
<line x1="477.0" y1="593.6" x2="517.0" y2="593.6" stroke="#38660f" stroke-width="4.6" stroke-linecap="round"/>
<path d="M489.8 599.1 L497.0 586.0 L504.2 599.1 Z" stroke="#38660f" stroke-width="1" fill="#38660f" />
<text x="519.3" y="600.6" font-size="19.5" font-weight="bold" text-anchor="start" fill="#000" textLength="41.5" lengthAdjust="spacingAndGlyphs" stroke="#000" stroke-width="0.35">IGF2</text>
<line x1="477.0" y1="628.0" x2="517.0" y2="628.0" stroke="#3a1d66" stroke-width="4.6" stroke-linecap="round"/>
<path d="M491.9 622.9 L502.1 633.1 M491.9 633.1 L502.1 622.9" stroke="#3a2060" stroke-width="1.6" fill="none" />
<text x="519.3" y="635.0" font-size="19.5" font-weight="bold" text-anchor="start" fill="#000" textLength="45.0" lengthAdjust="spacingAndGlyphs" stroke="#000" stroke-width="0.35">IMP2</text>
<line x1="477.0" y1="662.0" x2="517.0" y2="662.0" stroke="#127d9c" stroke-width="4.6" stroke-linecap="round"/>
<path d="M491.1 656.0 L502.9 668.0 M491.1 668.0 L502.9 656.0 M497.0 656.0 V668.0" stroke="#1a8fb5" stroke-width="1.5" fill="none" />
<text x="519.3" y="669.0" font-size="19.5" font-weight="bold" text-anchor="start" fill="#000" textLength="80.5" lengthAdjust="spacingAndGlyphs" stroke="#000" stroke-width="0.35">LncMyoD</text>
<line x1="477.0" y1="695.6" x2="517.0" y2="695.6" stroke="#ff3c00" stroke-width="4.6" stroke-linecap="round"/>
<circle cx="497.0" cy="695.6" r="6.6" fill="#ff3c00"/>
<text x="519.3" y="702.6" font-size="19.5" font-weight="bold" text-anchor="start" fill="#000" textLength="42.0" lengthAdjust="spacingAndGlyphs" stroke="#000" stroke-width="0.35">MYC</text>
<line x1="477.0" y1="730.3" x2="517.0" y2="730.3" stroke="#2a5aa8" stroke-width="4.6" stroke-linecap="round"/>
<path d="M497.0 725.2 V735.4" stroke="#2a5aa8" stroke-width="2" fill="none" />
<text x="519.3" y="737.3" font-size="19.5" font-weight="bold" text-anchor="start" fill="#000" textLength="52.5" lengthAdjust="spacingAndGlyphs" stroke="#000" stroke-width="0.35">NRAS</text>
<line x1="477.0" y1="764.3" x2="517.0" y2="764.3" stroke="#c8283a" stroke-width="4.6" stroke-linecap="round"/>
<path d="M490.6 764.3 H503.4" stroke="#c8283a" stroke-width="3.4" fill="none" />
<text x="519.3" y="771.3" font-size="19.5" font-weight="bold" text-anchor="start" fill="#000" textLength="39.0" lengthAdjust="spacingAndGlyphs" stroke="#000" stroke-width="0.35">RAN</text>
<line x1="477.0" y1="798.3" x2="517.0" y2="798.3" stroke="#4a8a20" stroke-width="4.6" stroke-linecap="round"/>
<path d="M490.6 798.3 H503.4" stroke="#4a8a20" stroke-width="3.4" fill="none" />
<text x="519.3" y="805.3" font-size="19.5" font-weight="bold" text-anchor="start" fill="#000" textLength="33.0" lengthAdjust="spacingAndGlyphs" stroke="#000" stroke-width="0.35">SP1</text>
</g>
<g id="panelD2" filter="url(#b0)">
<line x1="716.9" y1="893.5" x2="1108.0" y2="893.5" stroke="#3a3a3a" stroke-width="2.4" />
<text x="707.0" y="900.0" font-size="18.3" font-weight="bold" text-anchor="end" fill="#000" textLength="23.5" lengthAdjust="spacingAndGlyphs" stroke="#000" stroke-width="0.35">0%</text>
<line x1="716.9" y1="851.9" x2="1108.0" y2="851.9" stroke="#3a3a3a" stroke-width="2.4" />
<text x="707.0" y="858.4" font-size="18.3" font-weight="bold" text-anchor="end" fill="#000" textLength="33.8" lengthAdjust="spacingAndGlyphs" stroke="#000" stroke-width="0.35">10%</text>
<line x1="716.9" y1="810.3" x2="1108.0" y2="810.3" stroke="#3a3a3a" stroke-width="2.4" />
<text x="707.0" y="816.8" font-size="18.3" font-weight="bold" text-anchor="end" fill="#000" textLength="33.8" lengthAdjust="spacingAndGlyphs" stroke="#000" stroke-width="0.35">20%</text>
<line x1="716.9" y1="768.7" x2="1108.0" y2="768.7" stroke="#3a3a3a" stroke-width="2.4" />
<text x="707.0" y="775.2" font-size="18.3" font-weight="bold" text-anchor="end" fill="#000" textLength="33.8" lengthAdjust="spacingAndGlyphs" stroke="#000" stroke-width="0.35">30%</text>
<line x1="716.9" y1="727.1" x2="1108.0" y2="727.1" stroke="#3a3a3a" stroke-width="2.4" />
<text x="707.0" y="733.6" font-size="18.3" font-weight="bold" text-anchor="end" fill="#000" textLength="33.8" lengthAdjust="spacingAndGlyphs" stroke="#000" stroke-width="0.35">40%</text>
<line x1="716.9" y1="685.5" x2="1108.0" y2="685.5" stroke="#3a3a3a" stroke-width="2.4" />
<text x="707.0" y="692.0" font-size="18.3" font-weight="bold" text-anchor="end" fill="#000" textLength="33.8" lengthAdjust="spacingAndGlyphs" stroke="#000" stroke-width="0.35">50%</text>
<line x1="716.9" y1="643.9" x2="1108.0" y2="643.9" stroke="#3a3a3a" stroke-width="2.4" />
<text x="707.0" y="650.4" font-size="18.3" font-weight="bold" text-anchor="end" fill="#000" textLength="33.8" lengthAdjust="spacingAndGlyphs" stroke="#000" stroke-width="0.35">60%</text>
<line x1="716.9" y1="602.3" x2="1108.0" y2="602.3" stroke="#3a3a3a" stroke-width="2.4" />
<text x="707.0" y="608.8" font-size="18.3" font-weight="bold" text-anchor="end" fill="#000" textLength="33.8" lengthAdjust="spacingAndGlyphs" stroke="#000" stroke-width="0.35">70%</text>
<line x1="716.9" y1="560.7" x2="1108.0" y2="560.7" stroke="#3a3a3a" stroke-width="2.4" />
<text x="707.0" y="567.2" font-size="18.3" font-weight="bold" text-anchor="end" fill="#000" textLength="33.8" lengthAdjust="spacingAndGlyphs" stroke="#000" stroke-width="0.35">80%</text>
<line x1="716.9" y1="519.1" x2="1108.0" y2="519.1" stroke="#3a3a3a" stroke-width="2.4" />
<text x="707.0" y="525.6" font-size="18.3" font-weight="bold" text-anchor="end" fill="#000" textLength="33.8" lengthAdjust="spacingAndGlyphs" stroke="#000" stroke-width="0.35">90%</text>
<line x1="716.9" y1="477.5" x2="1108.0" y2="477.5" stroke="#3a3a3a" stroke-width="2.4" />
<text x="707.0" y="484.0" font-size="18.3" font-weight="bold" text-anchor="end" fill="#000" textLength="42.3" lengthAdjust="spacingAndGlyphs" stroke="#000" stroke-width="0.35">100%</text>
<line x1="722.0" y1="477.0" x2="722.0" y2="894.5" stroke="#333" stroke-width="2" />
<line x1="721.6" y1="893.5" x2="721.6" y2="899.5" stroke="#333" stroke-width="1.8" />
<line x1="818.1" y1="893.5" x2="818.1" y2="899.5" stroke="#333" stroke-width="1.8" />
<line x1="914.6" y1="893.5" x2="914.6" y2="899.5" stroke="#333" stroke-width="1.8" />
<line x1="1011.1" y1="893.5" x2="1011.1" y2="899.5" stroke="#333" stroke-width="1.8" />
<line x1="1107.6" y1="893.5" x2="1107.6" y2="899.5" stroke="#333" stroke-width="1.8" />
<rect x="750.4" y="477.5" width="39.6" height="47.0" fill="#150818" />
<rect x="750.4" y="524.5" width="39.6" height="45.2" fill="#ff1800" />
<rect x="750.4" y="569.7" width="39.6" height="47.7" fill="#020c28" />
<rect x="750.4" y="617.4" width="39.6" height="45.0" fill="#5e0000" />
<rect x="750.4" y="662.4" width="39.6" height="46.4" fill="#142408" />
<rect x="750.4" y="708.8" width="39.6" height="46.2" fill="#1c3a80" />
<rect x="750.4" y="755.0" width="39.6" height="46.2" fill="#b81a1c" />
<rect x="750.4" y="801.2" width="39.6" height="46.2" fill="#38601f" />
<rect x="750.4" y="847.4" width="39.6" height="46.1" fill="#032438" />
<line x1="750.8" y1="847.4" x2="750.8" y2="893.5" stroke="#1aa0c8" stroke-width="0.9" />
<line x1="789.6" y1="847.4" x2="789.6" y2="893.5" stroke="#1aa0c8" stroke-width="0.9" />
<text x="770.2" y="924.5" font-size="18.5" font-weight="bold" text-anchor="middle" fill="#000" textLength="21.5" lengthAdjust="spacingAndGlyphs" stroke="#000" stroke-width="0.35">D0</text>
<rect x="847.2" y="477.5" width="39.6" height="41.9" fill="#150818" />
<rect x="847.2" y="519.4" width="39.6" height="30.5" fill="#ff1800" />
<rect x="847.2" y="549.9" width="39.6" height="38.1" fill="#020c28" />
<rect x="847.2" y="588.0" width="39.6" height="37.0" fill="#5e0000" />
<rect x="847.2" y="625.0" width="39.6" height="26.0" fill="#142408" />
<rect x="847.2" y="651.0" width="39.6" height="48.5" fill="#1c3a80" />
<rect x="847.2" y="699.5" width="39.6" height="37.5" fill="#b81a1c" />
<rect x="847.2" y="737.0" width="39.6" height="48.4" fill="#38601f" />
<rect x="847.2" y="785.4" width="39.6" height="108.1" fill="#032438" />
<line x1="847.6" y1="785.4" x2="847.6" y2="893.5" stroke="#1aa0c8" stroke-width="0.9" />
<line x1="886.4" y1="785.4" x2="886.4" y2="893.5" stroke="#1aa0c8" stroke-width="0.9" />
<text x="867.0" y="924.5" font-size="18.5" font-weight="bold" text-anchor="middle" fill="#000" textLength="21.5" lengthAdjust="spacingAndGlyphs" stroke="#000" stroke-width="0.35">D1</text>
<rect x="943.3" y="477.5" width="39.6" height="29.5" fill="#150818" />
<rect x="943.3" y="507.0" width="39.6" height="22.0" fill="#ff1800" />
<rect x="943.3" y="529.0" width="39.6" height="19.0" fill="#020c28" />
<rect x="943.3" y="548.0" width="39.6" height="33.0" fill="#5e0000" />
<rect x="943.3" y="581.0" width="39.6" height="12.0" fill="#142408" />
<rect x="943.3" y="593.0" width="39.6" height="32.0" fill="#1c3a80" />
<rect x="943.3" y="625.0" width="39.6" height="51.0" fill="#b81a1c" />
<rect x="943.3" y="676.0" width="39.6" height="45.0" fill="#38601f" />
<rect x="943.3" y="721.0" width="39.6" height="172.5" fill="#032438" />
<line x1="943.7" y1="721.0" x2="943.7" y2="893.5" stroke="#1aa0c8" stroke-width="0.9" />
<line x1="982.5" y1="721.0" x2="982.5" y2="893.5" stroke="#1aa0c8" stroke-width="0.9" />
<text x="963.1" y="924.5" font-size="18.5" font-weight="bold" text-anchor="middle" fill="#000" textLength="21.5" lengthAdjust="spacingAndGlyphs" stroke="#000" stroke-width="0.35">D3</text>
<rect x="1039.7" y="477.5" width="39.6" height="21.5" fill="#150818" />
<rect x="1039.7" y="499.0" width="39.6" height="14.6" fill="#ff1800" />
<rect x="1039.7" y="513.6" width="39.6" height="19.0" fill="#020c28" />
<rect x="1039.7" y="532.6" width="39.6" height="16.4" fill="#5e0000" />
<rect x="1039.7" y="549.0" width="39.6" height="7.2" fill="#142408" />
<rect x="1039.7" y="556.2" width="39.6" height="23.2" fill="#1c3a80" />
<rect x="1039.7" y="579.4" width="39.6" height="48.6" fill="#b81a1c" />
<rect x="1039.7" y="628.0" width="39.6" height="49.6" fill="#38601f" />
<rect x="1039.7" y="677.6" width="39.6" height="215.9" fill="#032438" />
<line x1="1040.1" y1="677.6" x2="1040.1" y2="893.5" stroke="#1aa0c8" stroke-width="0.9" />
<line x1="1078.9" y1="677.6" x2="1078.9" y2="893.5" stroke="#1aa0c8" stroke-width="0.9" />
<text x="1059.5" y="924.5" font-size="18.5" font-weight="bold" text-anchor="middle" fill="#000" textLength="21.5" lengthAdjust="spacingAndGlyphs" stroke="#000" stroke-width="0.35">D5</text>
<text x="660.4" y="699.5" font-size="18.5" font-weight="bold" text-anchor="middle" fill="#000" textLength="300.0" lengthAdjust="spacingAndGlyphs" transform="rotate(-90 660.4 699.5)" stroke="#000" stroke-width="0.35">Relative anti-IMP2 co-IP efficiency</text>
<text x="1092.6" y="508.5" font-size="38" font-weight="bold" text-anchor="middle" fill="#000" stroke="#000" stroke-width="0.9">*</text>
<text x="1092.6" y="527.2" font-size="38" font-weight="bold" text-anchor="middle" fill="#000" stroke="#000" stroke-width="0.9">*</text>
<text x="1092.6" y="545.5" font-size="38" font-weight="bold" text-anchor="middle" fill="#000" stroke="#000" stroke-width="0.9">*</text>
<text x="1092.6" y="560.1" font-size="38" font-weight="bold" text-anchor="middle" fill="#000" stroke="#000" stroke-width="0.9">*</text>
<text x="1092.6" y="573.5" font-size="38" font-weight="bold" text-anchor="middle" fill="#000" stroke="#000" stroke-width="0.9">*</text>
<text x="1092.6" y="589.8" font-size="38" font-weight="bold" text-anchor="middle" fill="#000" stroke="#000" stroke-width="0.9">*</text>
<text x="1092.6" y="792.0" font-size="38" font-weight="bold" text-anchor="middle" fill="#000" stroke="#000" stroke-width="0.9">*</text>
<text x="1146.2" y="528.7" font-size="18.5" font-weight="bold" text-anchor="start" fill="#000" textLength="50.7" lengthAdjust="spacingAndGlyphs" stroke="#000" stroke-width="0.35">mRNA</text>
<rect x="1133.0" y="558.2" width="9.6" height="9.6" fill="#150818" />
<text x="1146.2" y="569.6" font-size="18.5" font-weight="bold" text-anchor="start" fill="#000" textLength="39.5" lengthAdjust="spacingAndGlyphs" stroke="#000" stroke-width="0.35">IMP2</text>
<rect x="1133.0" y="592.2" width="9.6" height="9.6" fill="#ff1800" />
<text x="1146.2" y="603.6" font-size="18.5" font-weight="bold" text-anchor="start" fill="#000" textLength="38.5" lengthAdjust="spacingAndGlyphs" stroke="#000" stroke-width="0.35">MYC</text>
<rect x="1133.0" y="626.1" width="9.6" height="9.6" fill="#020c28" />
<text x="1146.2" y="637.5" font-size="18.5" font-weight="bold" text-anchor="start" fill="#000" textLength="58.5" lengthAdjust="spacingAndGlyphs" stroke="#000" stroke-width="0.35">CCNG1</text>
<rect x="1133.0" y="660.1" width="9.6" height="9.6" fill="#5e0000" />
<text x="1146.2" y="671.5" font-size="18.5" font-weight="bold" text-anchor="start" fill="#000" textLength="50.0" lengthAdjust="spacingAndGlyphs" stroke="#000" stroke-width="0.35">IGF1R</text>
<rect x="1133.0" y="694.0" width="9.6" height="9.6" fill="#142408" />
<text x="1146.2" y="705.4" font-size="18.5" font-weight="bold" text-anchor="start" fill="#000" textLength="38.0" lengthAdjust="spacingAndGlyphs" stroke="#000" stroke-width="0.35">IGF2</text>
<rect x="1133.0" y="728.0" width="9.6" height="9.6" fill="#1c3a80" />
<text x="1146.2" y="739.4" font-size="18.5" font-weight="bold" text-anchor="start" fill="#000" textLength="48.0" lengthAdjust="spacingAndGlyphs" stroke="#000" stroke-width="0.35">NRAS</text>
<rect x="1133.0" y="761.9" width="9.6" height="9.6" fill="#b81a1c" />
<text x="1146.2" y="773.3" font-size="18.5" font-weight="bold" text-anchor="start" fill="#000" textLength="36.0" lengthAdjust="spacingAndGlyphs" stroke="#000" stroke-width="0.35">RAN</text>
<rect x="1133.0" y="795.9" width="9.6" height="9.6" fill="#38601f" />
<text x="1146.2" y="807.3" font-size="18.5" font-weight="bold" text-anchor="start" fill="#000" textLength="31.0" lengthAdjust="spacingAndGlyphs" stroke="#000" stroke-width="0.35">SP1</text>
<rect x="1133.0" y="829.8" width="9.6" height="9.6" fill="#032438" />
<text x="1146.2" y="841.2" font-size="18.5" font-weight="bold" text-anchor="start" fill="#000" textLength="72.0" lengthAdjust="spacingAndGlyphs" stroke="#000" stroke-width="0.35">LncMyoD</text>
</g>
</svg></body></html>
